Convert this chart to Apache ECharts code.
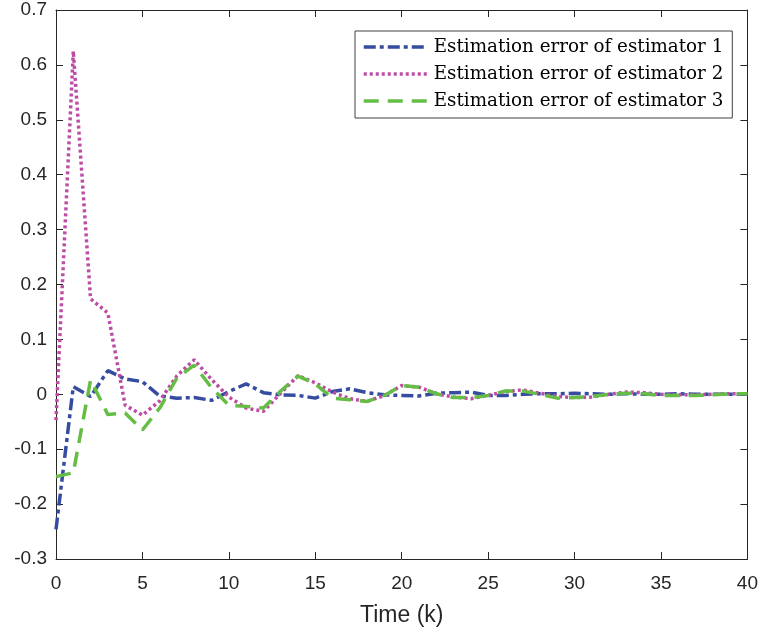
<!DOCTYPE html>
<html>
<head>
<meta charset="utf-8">
<script src="https://cdn.jsdelivr.net/npm/echarts@6/dist/echarts.min.js"></script>
<style>
  html, body { margin: 0; padding: 0; background: #fff; }
  #errChart { width: 761px; height: 633px; }
</style>
</head>
<body>
<div id="errChart"></div>
<script>
// time steps k = 0..40
const timeK = [0,1,2,3,4,5,6,7,8,9,10,11,12,13,14,15,16,17,18,19,20,
  21,22,23,24,25,26,27,28,29,30,31,32,33,34,35,36,37,38,39,40];

const err1 = [-0.246,0.014,-0.004,0.043,0.028,0.023,-0.003,-0.007,-0.006,-0.011,0.005,
  0.019,0.003,-0.001,-0.002,-0.007,0.005,0.010,0.003,-0.001,-0.002,
  -0.003,0.002,0.003,0.004,-0.002,-0.002,0.000,0.001,0.001,0.002,
  0.001,0.000,0.001,0.000,0.000,0.001,0.000,0.000,0.000,0.000];

const err2 = [-0.047,0.625,0.174,0.148,-0.020,-0.038,-0.012,0.034,0.063,0.027,-0.005,
  -0.025,-0.031,0.002,0.034,0.021,0.004,-0.008,-0.013,-0.002,0.016,
  0.013,0.001,-0.005,-0.008,-0.002,0.005,0.008,0.002,-0.004,-0.006,
  -0.005,0.000,0.004,0.003,0.000,-0.001,-0.001,0.000,0.001,0.001];

const err3 = [-0.150,-0.143,0.026,-0.037,-0.034,-0.065,-0.025,0.030,0.053,0.012,-0.020,
  -0.022,-0.025,0.006,0.033,0.019,-0.007,-0.010,-0.013,-0.002,0.016,
  0.013,0.001,-0.006,-0.006,-0.002,0.006,0.006,0.000,-0.007,-0.006,
  -0.004,0.000,0.002,0.001,-0.002,-0.002,-0.002,-0.001,0.001,0.001];

const seriesNames = ['Estimation error of estimator 1', 'Estimation error of estimator 2', 'Estimation error of estimator 3'];

const axisColor = '#262626';

function pairs(ys) {
  return timeK.map((k, i) => [k, ys[i]]);
}

function boxAxis(pos, isX) {
  let ax = {
    type: 'value',
    position: pos,
    min: isX ? 0 : -0.3,
    max: isX ? 40 : 0.7,
    interval: isX ? 5 : 0.1,
    axisLine: { show: true, onZero: false, lineStyle: { color: axisColor, width: 1 } },
    axisTick: { show: true, inside: true, length: 7, lineStyle: { color: axisColor } },
    splitLine: { show: false },
    axisLabel: { show: false }
  };
  return ax;
}

const chart = echarts.init(document.getElementById('errChart'));

let xMain = boxAxis('bottom', true);
xMain.axisLabel = { show: true, margin: 15, color: axisColor, fontSize: 19, fontFamily: 'Liberation Sans' };
xMain.name = 'Time (k)';
xMain.nameLocation = 'middle';
xMain.nameGap = 45;
xMain.nameTextStyle = { color: axisColor, fontSize: 23, fontFamily: 'Liberation Sans' };

let yMain = boxAxis('left', false);
yMain.axisLabel = { show: true, margin: 9, color: axisColor, fontSize: 19, fontFamily: 'Liberation Sans' };

const options = {
  animation: false,
  backgroundColor: '#fff',
  grid: { left: 56, right: 10, top: 10, bottom: 74, containLabel: false },
  legend: {
    orient: 'vertical',
    left: 355,
    top: 31,
    padding: [7, 9, 8, 7],
    itemWidth: 63,
    itemHeight: 14,
    itemGap: 9,
    borderColor: '#404040',
    borderWidth: 1,
    backgroundColor: '#fff',
    itemStyle: { opacity: 0 },
    lineStyle: { width: 3.5 },
    textStyle: { color: '#000', fontSize: 18.3, fontFamily: 'DejaVu Serif', padding: [0, 0, 0, 2] },
    data: seriesNames
  },
  xAxis: [xMain, boxAxis('top', true)],
  yAxis: [yMain, boxAxis('right', false)],
  series: [
    {
      name: seriesNames[0],
      type: 'line',
      symbol: 'none',
      data: pairs(err1),
      lineStyle: { color: '#364ca0', width: 3.5, type: [12, 4, 4, 4] },
      itemStyle: { color: '#364ca0' }
    },
    {
      name: seriesNames[1],
      type: 'line',
      symbol: 'none',
      data: pairs(err2),
      lineStyle: { color: '#bd4ca4', width: 3.5, type: [3, 3] },
      itemStyle: { color: '#bd4ca4' }
    },
    {
      name: seriesNames[2],
      type: 'line',
      symbol: 'none',
      data: pairs(err3),
      lineStyle: { color: '#66bd46', width: 3.5, type: [15, 9] },
      itemStyle: { color: '#66bd46' }
    }
  ]
};
chart.setOption(options);
</script>
</body>
</html>
